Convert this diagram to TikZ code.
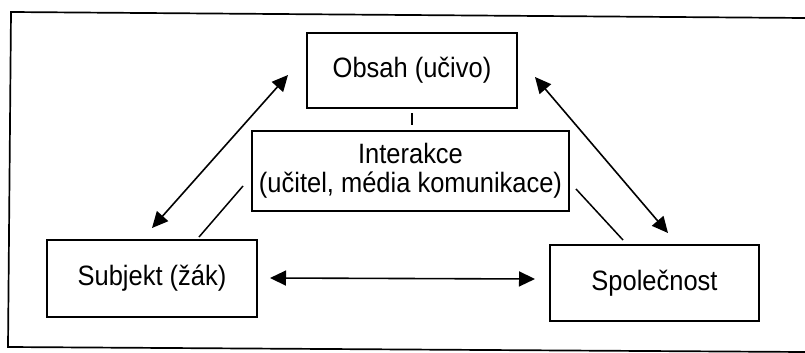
\documentclass[tikz,border=0pt]{standalone}
\usepackage{fontspec}
\setmainfont{Liberation Sans}[FakeStretch=0.91]
\usetikzlibrary{arrows.meta}
\begin{document}
\begin{tikzpicture}[x=1pt,y=-1pt,
  box/.style={draw,line width=1.5pt,inner sep=0pt,align=center,
    font=\fontsize{28}{29}\selectfont},
  link/.style={line width=1.5pt},
  dbl/.style={line width=1.6pt,{Triangle[length=16pt,width=15pt]}-{Triangle[length=16pt,width=15pt]}}]
  \useasboundingbox (0,0) rectangle (805,353);
  % outer frame (open on the right)
  \draw[line width=1.7pt] (805,18) -- (11,12) -- (8,347) -- (805,352);

  \node[box,minimum width=210pt,minimum height=75pt] (obsah) at (412,70.5) {Obsah (učivo)};
  \node[box,minimum width=317pt,minimum height=80pt] (inter) at (410.5,171)
    {Interakce\\(učitel, média komunikace)};
  \node[box,minimum width=210pt,minimum height=77pt] (subj) at (152,278.5) {Subjekt (žák)};
  \node[box,minimum width=209pt,minimum height=76pt] (spol) at (654.5,283) {Společnost};

  % arrow end points
  \coordinate (sO) at (152,228);
  \coordinate (oS) at (288,75);
  \coordinate (oP) at (535,77);
  \coordinate (pO) at (668,233);
  \coordinate (sP) at (270,278);
  \coordinate (pS) at (535,279);
  % free ends of the plain links
  \coordinate (oI1) at (412,113);
  \coordinate (oI2) at (412,125);
  \coordinate (iS1) at (243,186);
  \coordinate (iS2) at (199,237);
  \coordinate (iP1) at (576,189);
  \coordinate (iP2) at (623,240);

  \draw[dbl] (sO) -- (oS);
  \draw[dbl] (oP) -- (pO);
  \draw[dbl] (sP) -- (pS);

  \draw[link] (oI1) -- (oI2);
  \draw[link] (iS1) -- (iS2);
  \draw[link] (iP1) -- (iP2);
\end{tikzpicture}
\end{document}
